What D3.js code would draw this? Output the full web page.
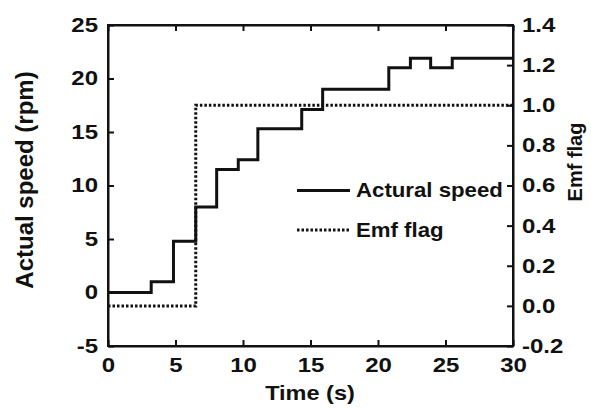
<!DOCTYPE html>
<html>
<head>
<meta charset="utf-8">
<script src="https://cdn.jsdelivr.net/npm/d3@7"></script>
<style>
  body { margin: 0; background: #fff; }
  svg text { font-family: "Liberation Sans", Arial, sans-serif; font-weight: bold; fill: #111; }
</style>
</head>
<body>
<div id="container"></div>
<script>
// Chart size
const width = 591;
const height = 408;

// Step data
const speedTime = [0, 3.2, 4.85, 6.5, 8.05, 9.65, 11.1, 14.35, 15.9, 20.8, 22.4, 23.9, 25.5, 30];
const speedValue = [0, 1.0, 4.8, 8.0, 11.5, 12.4, 15.3, 17.1, 19.0, 21.0, 21.9, 21.0, 21.9, 21.9];
const flagTime = [0, 6.5, 30];
const flagValue = [0, 1, 1];

const xTicks = [0, 5, 10, 15, 20, 25, 30];
const leftTicks = [-5, 0, 5, 10, 15, 20, 25];
const rightTicks = [-0.2, 0, 0.2, 0.4, 0.6, 0.8, 1.0, 1.2, 1.4];

// Plot area edges
const plotL = 108, plotR = 513, plotT = 25, plotB = 346;

// The original figure's text is a bit wide, so stretch it horizontally
function stretch(sel, sx) {
    sel.each(function () {
        const t = d3.select(this);
        const x0 = +t.attr("x") || 0;
        t.attr("x", x0 / sx).attr("transform", `scale(${sx},1)`);
    });
}

// plain hyphen minus like the original
const fmt0 = d => d3.format("d")(d).replace("\u2212", "-");
const fmt1 = d => d3.format(".1f")(d).replace("\u2212", "-");

const svg = d3.select("#container")
    .append("svg")
    .attr("width", width)
    .attr("height", height);

const x = d3.scaleLinear().domain([0, 30]).range([plotL, plotR]);
const yL = d3.scaleLinear().domain([-5, 25]).range([plotB, plotT]);
const yR = d3.scaleLinear().domain([-0.2, 1.4]).range([plotB, plotT]);

// Axes with inward ticks
const tickLen = 6;
const tickStretch = 1.2;
svg.append("g")
    .attr("transform", `translate(0,${plotB})`)
    .call(d3.axisBottom(x).tickValues(xTicks).tickSizeInner(-tickLen).tickSizeOuter(0).tickPadding(12).tickFormat(fmt0))
    .call(g => g.selectAll("text").style("font-size", "20px").call(stretch, tickStretch));

svg.append("g")
    .attr("transform", `translate(0,${plotT})`)
    .call(d3.axisTop(x).tickValues(xTicks).tickSizeInner(-tickLen).tickSizeOuter(0).tickFormat(""));

svg.append("g")
    .attr("transform", `translate(${plotL},0)`)
    .call(d3.axisLeft(yL).tickValues(leftTicks).tickSizeInner(-tickLen).tickSizeOuter(0).tickPadding(10).tickFormat(fmt0))
    .call(g => g.selectAll("text").style("font-size", "20px").call(stretch, tickStretch));

svg.append("g")
    .attr("transform", `translate(${plotR},0)`)
    .call(d3.axisRight(yR).tickValues(rightTicks).tickSizeInner(-tickLen).tickSizeOuter(0).tickPadding(9).tickFormat(fmt1))
    .call(g => g.selectAll("text").style("font-size", "20px").call(stretch, tickStretch));

svg.selectAll(".domain").attr("stroke", "#111").attr("stroke-width", 2);
svg.selectAll(".tick line").attr("stroke", "#111").attr("stroke-width", 2);

// Frame
svg.append("rect")
    .attr("x", plotL).attr("y", plotT)
    .attr("width", plotR - plotL).attr("height", plotB - plotT)
    .attr("fill", "none").attr("stroke", "#111").attr("stroke-width", 2);

// Lines
const speedLine = d3.line()
    .x(d => x(d[0]))
    .y(d => yL(d[1]))
    .curve(d3.curveStepAfter);

const flagLine = d3.line()
    .x(d => x(d[0]))
    .y(d => yR(d[1]))
    .curve(d3.curveStepAfter);

svg.append("path")
    .datum(flagTime.map((t, i) => [t, flagValue[i]]))
    .attr("fill", "none")
    .attr("stroke", "#111")
    .attr("stroke-width", 3)
    .attr("stroke-dasharray", "2.5,2")
    .attr("d", flagLine);

svg.append("path")
    .datum(speedTime.map((t, i) => [t, speedValue[i]]))
    .attr("fill", "none")
    .attr("stroke", "#111")
    .attr("stroke-width", 3)
    .attr("d", speedLine);

// Legend
const legend = svg.append("g");
legend.append("line")
    .attr("x1", 297).attr("x2", 350).attr("y1", 190.5).attr("y2", 190.5)
    .attr("stroke", "#111").attr("stroke-width", 3);
legend.append("text")
    .attr("x", 356).attr("y", 197)
    .style("font-size", "19.5px")
    .text("Actural speed");
legend.append("line")
    .attr("x1", 297).attr("x2", 350).attr("y1", 230).attr("y2", 230)
    .attr("stroke", "#111").attr("stroke-width", 3)
    .attr("stroke-dasharray", "2.5,2");
legend.append("text")
    .attr("x", 356).attr("y", 237)
    .style("font-size", "19.5px")
    .text("Emf flag");
legend.selectAll("text").call(stretch, 1.14);

// Axis titles
svg.append("text")
    .attr("transform", `translate(33,180) rotate(-90)`)
    .attr("text-anchor", "middle")
    .style("font-size", "24px")
    .text("Actual speed (rpm)");

svg.append("text")
    .attr("transform", `translate(582,162) rotate(-90)`)
    .attr("text-anchor", "middle")
    .style("font-size", "20px")
    .text("Emf flag");

svg.append("text")
    .attr("x", 310)
    .attr("y", 400)
    .attr("text-anchor", "middle")
    .style("font-size", "21px")
    .text("Time (s)")
    .call(stretch, 1.12);
</script>
</body>
</html>
